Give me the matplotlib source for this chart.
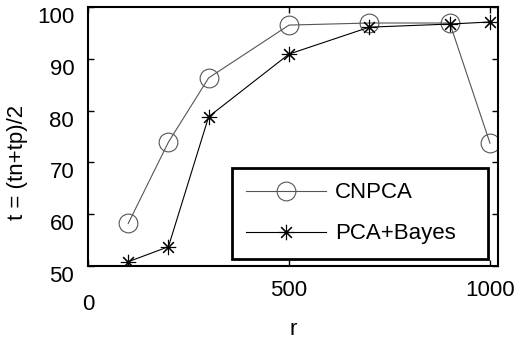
import matplotlib
matplotlib.use("Agg")
import matplotlib.pyplot as plt
import matplotlib.transforms as mtransforms

# 数据
r = [100, 200, 300, 500, 700, 900, 1000]
cnpca = [58.2, 73.9, 86.3, 96.5, 96.9, 96.9, 73.7]
pca_bayes = [50.8, 53.7, 78.8, 90.9, 96.1, 96.7, 97.1]
xticks = [0, 500, 1000]
yticks = [50, 60, 70, 80, 90, 100]

plt.rcParams['font.family'] = ['Liberation Sans', 'DejaVu Sans']
fs = 16

fig = plt.figure(figsize=(5.15, 3.48), dpi=100)
ax = fig.add_axes([0.171, 0.236, 0.796, 0.744])

ax.plot(r, cnpca, color='#555555', lw=0.8, marker='o', ms=13.5, mfc='none',
        mec='#555555', mew=0.8, label='CNPCA')
ax.plot(r, pca_bayes, color='black', lw=0.8, marker=(8, 2, 0), ms=11,
        mec='black', mew=0.8, label='PCA+Bayes')

ax.set_xlim(0, 1020)
ax.set_ylim(50, 100)
ax.set_xticks(xticks)
ax.set_yticks(yticks)
ax.tick_params(direction='in', length=4, width=1, top=True, right=True,
               labelsize=fs, pad=10)
for s in ax.spines.values():
    s.set_linewidth(1.5)

plt.setp(ax.get_yticklabels(), va='top')
# "0" 标签下移，避免与 50 重叠
lbl0 = ax.get_xticklabels()[0]
lbl0.set_transform(lbl0.get_transform() +
                   mtransforms.ScaledTranslation(0, -14 / 100, fig.dpi_scale_trans))

ax.set_xlabel('r', fontsize=fs, va='center')
ax.xaxis.set_label_coords(0.5, -0.245)
ax.set_ylabel('t = (tn+tp)/2', fontsize=fs, va='center')
ax.yaxis.set_label_coords(-0.171, 0.40)

leg = ax.legend(loc='lower left', bbox_to_anchor=(0.351, 0.027, 0.625, 0.344),
                mode='expand', borderaxespad=0, fontsize=fs, handlelength=3.6,
                fancybox=False, edgecolor='black', framealpha=1,
                labelspacing=0.9, handletextpad=0.4, borderpad=0.65)
leg.get_frame().set_linewidth(2)

plt.savefig('out.png', dpi=100)
